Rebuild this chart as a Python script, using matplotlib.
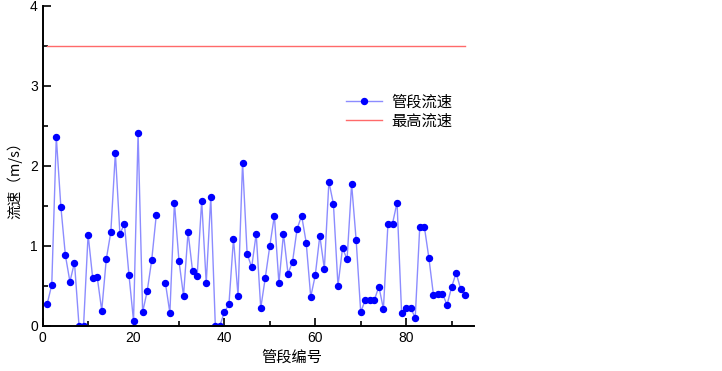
import numpy as np
import matplotlib
matplotlib.use('Agg')
import matplotlib.pyplot as plt
from matplotlib.ticker import MultipleLocator

plt.rcParams['font.family'] = ['Liberation Sans', 'Noto Sans CJK SC', 'DejaVu Sans']

# 管段流速 (m/s), 管段编号 1..93, 26号缺失
seg_no = np.arange(1, 94)
speed = [0.275, 0.51, 2.36, 1.49, 0.88, 0.55, 0.79, 0.0, 0.0, 1.14,
         0.60, 0.61, 0.19, 0.83, 1.17, 2.16, 1.15, 1.27, 0.63, 0.06,
         2.41, 0.17, 0.43, 0.82, 1.38, np.nan, 0.54, 0.16, 1.54, 0.81,
         0.375, 1.17, 0.68, 0.62, 1.56, 0.53, 1.61, 0.0, 0.0, 0.17,
         0.27, 1.09, 0.375, 2.04, 0.90, 0.73, 1.15, 0.22, 0.60, 1.00,
         1.375, 0.53, 1.15, 0.65, 0.80, 1.21, 1.375, 1.04, 0.36, 0.63,
         1.125, 0.71, 1.80, 1.52, 0.50, 0.97, 0.83, 1.77, 1.07, 0.17,
         0.32, 0.32, 0.32, 0.49, 0.21, 1.275, 1.275, 1.54, 0.16, 0.22,
         0.22, 0.10, 1.24, 1.24, 0.85, 0.39, 0.40, 0.40, 0.26, 0.48,
         0.66, 0.46, 0.39]
max_speed = 3.5

fig = plt.figure(figsize=(7.22, 3.71), dpi=100)
ax = fig.add_axes([0.0591, 0.1221, 0.5978, 0.8625])

ax.plot(seg_no, speed, '-', color='#8c8cff', lw=1.0, marker='o',
        markersize=4.3, markerfacecolor='#0000ff', markeredgecolor='#0000ff',
        label='管段流速')
ax.plot([seg_no[0], seg_no[-1]], [max_speed, max_speed], '-', color='#ff6a6a',
        lw=1.0, label='最高流速')

ax.set_xlim(0, 95)
ax.set_ylim(0, 4)
ax.xaxis.set_major_locator(MultipleLocator(20))
ax.xaxis.set_minor_locator(MultipleLocator(10))
ax.yaxis.set_major_locator(MultipleLocator(1))
ax.yaxis.set_minor_locator(MultipleLocator(0.5))
ax.tick_params(which='both', direction='in', labelsize=10, width=1.2)
ax.tick_params(which='major', length=6)
ax.tick_params(which='minor', length=3.5)
for s in ['top', 'right']:
    ax.spines[s].set_visible(False)
for s in ['left', 'bottom']:
    ax.spines[s].set_linewidth(1.4)

fig.text(292 / 722, 1 - 357 / 371, '管段编号', ha='center', va='center',
         fontsize=11, family=['Noto Sans CJK SC'])
fig.text(15 / 722, 1 - 177 / 371, '流速（m/s）', ha='center', va='center',
         rotation=90, fontsize=10.5, family=['Noto Sans CJK SC', 'DejaVu Sans'])

ax.legend(loc='upper left', bbox_to_anchor=(332 / 722, 1 - 80 / 371),
          bbox_transform=fig.transFigure, frameon=False,
          handlelength=2.4, handletextpad=0.6, labelspacing=0.1,
          prop={'family': ['Noto Sans CJK SC'], 'size': 11})

fig.savefig('out.png', dpi=100)
